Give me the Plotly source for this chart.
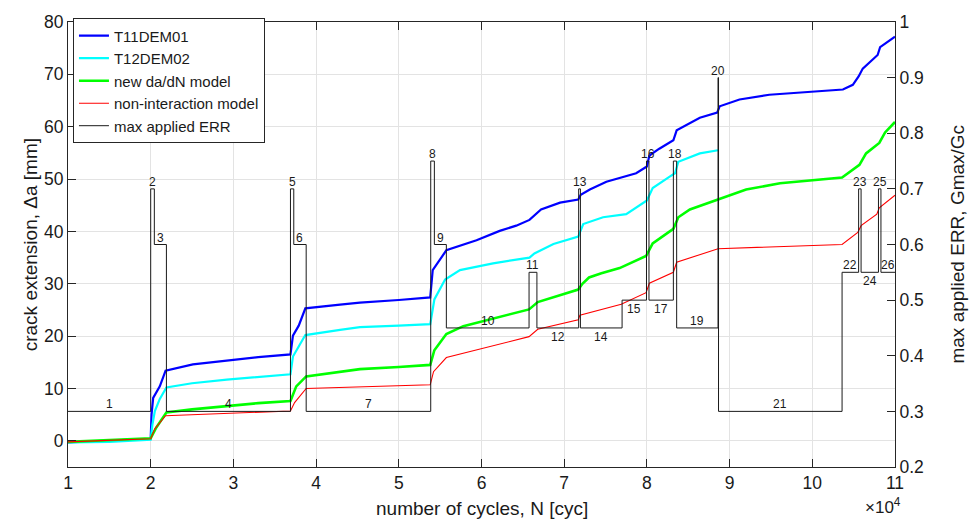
import plotly.graph_objects as go

# ---------------- data (N in cycles, crack extension in mm) ----------------
n_t11 = [1.0, 1.5, 2.0, 2.01, 2.03, 2.11, 2.18, 2.51, 2.92, 3.3, 3.69, 3.72, 3.79, 3.87, 4.29, 4.53,
         5.0, 5.38, 5.41, 5.47, 5.575, 5.94, 6.22, 6.42, 6.58, 6.72, 6.95, 7.17, 7.2, 7.31, 7.51,
         7.87, 8.0, 8.03, 8.15, 8.32, 8.36, 8.64, 8.85, 8.88, 9.12, 9.48, 9.93, 10.37, 10.49,
         10.56, 10.61, 10.79, 10.82, 11.0]
da_t11 = [-0.3, 0.0, 0.4, 5.0, 8.2, 10.4, 13.4, 14.6, 15.4, 16.0, 16.5, 20.1, 22.0, 25.3, 26.0, 26.4,
          26.9, 27.4, 32.6, 33.9, 36.4, 38.3, 40.1, 41.1, 42.2, 44.2, 45.5, 46.1, 47.0, 48.0, 49.5,
          51.1, 52.4, 54.5, 55.8, 57.4, 59.3, 61.7, 62.7, 63.9, 65.2, 66.1, 66.6, 67.1, 68.0,
          69.6, 71.1, 73.7, 75.2, 77.2]

n_t12 = [1.0, 1.5, 2.0, 2.02, 2.05, 2.11, 2.19, 2.5, 2.92, 3.3, 3.69, 3.72, 3.87, 4.29, 4.53, 5.0,
         5.38, 5.39, 5.43, 5.56, 5.74, 6.14, 6.58, 6.64, 6.87, 7.17, 7.23, 7.47, 7.75, 8.0, 8.07,
         8.28, 8.34, 8.38, 8.64, 8.86]
da_t12 = [-0.3, -0.2, 0.2, 3.0, 5.7, 8.0, 10.2, 11.0, 11.7, 12.2, 12.7, 16.1, 20.2, 21.2, 21.7, 22.0,
          22.3, 23.2, 27.0, 30.8, 32.6, 33.9, 35.0, 35.8, 37.6, 39.0, 41.4, 42.7, 43.3, 45.9, 48.3,
          50.5, 51.1, 53.3, 54.9, 55.5]

n_model = [1.0, 1.5, 2.0, 2.07, 2.19, 2.5, 2.92, 3.3, 3.69, 3.76, 3.88, 4.29, 4.53, 5.0, 5.38, 5.43,
           5.575, 5.78, 6.10, 6.575, 6.68, 6.91, 7.17, 7.22, 7.30, 7.45, 7.67, 7.99, 8.07, 8.32,
           8.38, 8.52, 8.86, 9.2, 9.61, 10.36, 10.57, 10.65, 10.81, 10.88, 11.0]
da_model = [-0.2, 0.1, 0.5, 2.6, 5.4, 6.0, 6.7, 7.2, 7.6, 10.4, 12.3, 13.2, 13.7, 14.1, 14.5, 17.3,
            20.4, 21.9, 23.2, 25.1, 26.5, 27.6, 28.9, 30.0, 31.2, 32.0, 33.0, 35.3, 37.7, 40.5,
            42.7, 44.2, 46.1, 48.0, 49.2, 50.3, 52.7, 54.9, 56.9, 58.9, 60.9]

n_nonint = [1.0, 2.0, 2.05, 2.18, 3.69, 3.74, 3.88, 5.38, 5.42, 5.575, 6.575, 6.68, 7.17, 7.19, 7.69,
            7.99, 8.03, 8.32, 8.36, 8.86, 10.36, 10.55, 10.59, 10.78, 10.81, 11.0]
da_nonint = [-0.2, 0.4, 2.3, 4.8, 5.7, 7.3, 10.0, 10.7, 13.2, 15.9, 19.9, 21.3, 23.1, 24.0, 26.1,
             28.3, 30.1, 32.2, 34.1, 36.7, 37.5, 39.8, 41.1, 43.3, 44.5, 46.9]

# loading blocks: boundaries (x1e4 cycles) and max applied ERR (Gmax/Gc)
step_bounds = [1.0, 2.0, 2.044, 2.19, 3.69, 3.73, 3.88, 5.386, 5.43, 5.575, 6.575, 6.67, 7.175,
               7.196, 7.70, 7.995, 8.025, 8.32, 8.36, 8.86, 8.866, 10.36, 10.56, 10.59, 10.80,
               10.83, 11.0]
step_levels = [0.3, 0.7, 0.6, 0.3, 0.7, 0.6, 0.3, 0.75, 0.6, 0.45, 0.55, 0.45, 0.7, 0.45, 0.5,
               0.75, 0.5, 0.75, 0.45, 0.9, 0.3, 0.55, 0.7, 0.55, 0.7, 0.55]
step_names = [str(i) for i in range(1, 27)]

x_ticks = [1, 2, 3, 4, 5, 6, 7, 8, 9, 10, 11]
y_ticks = [0, 10, 20, 30, 40, 50, 60, 70, 80]
y2_ticks = [0.2, 0.3, 0.4, 0.5, 0.6, 0.7, 0.8, 0.9, 1.0]
y2_ticktext = ["0.2", "0.3", "0.4", "0.5", "0.6", "0.7", "0.8", "0.9", "1"]

SCALE = 1e4

def sc(v):
    return [a * SCALE for a in v]

# label placement (style): labels drawn below their block line
below = {"12", "14", "15", "17", "24"}

FONT = "Liberation Sans, Arial, sans-serif"
AX = "#262626"
GRID = "#e3e3e3"

fig = go.Figure()
fig.add_trace(go.Scatter(x=sc(n_t11), y=da_t11, mode="lines", name="T11DEM01",
                         line=dict(color="#0000ff", width=2.2)))
fig.add_trace(go.Scatter(x=sc(n_t12), y=da_t12, mode="lines", name="T12DEM02",
                         line=dict(color="#00ffff", width=2.2)))
fig.add_trace(go.Scatter(x=sc(n_model), y=da_model, mode="lines", name="new da/dN model",
                         line=dict(color="#00ff00", width=2.6)))
fig.add_trace(go.Scatter(x=sc(n_nonint), y=da_nonint, mode="lines", name="non-interaction model",
                         line=dict(color="#ff0000", width=1.1)))
fig.add_trace(go.Scatter(x=sc(step_bounds), y=step_levels + [step_levels[-1]], mode="lines",
                         name="max applied ERR", yaxis="y2", line_shape="hv",
                         line=dict(color="#1a1a1a", width=1)))

annotations = []
for i, name in enumerate(step_names):
    xm = 0.5 * (step_bounds[i] + step_bounds[i + 1]) * SCALE
    annotations.append(dict(x=xm, y=step_levels[i], xref="x", yref="y2", text=name,
                            showarrow=False, xanchor="center", yanchor="middle",
                            yshift=-9 if name in below else 7,
                            font=dict(family=FONT, size=12, color="#1a1a1a")))

annotations += [
    dict(x=-0.045, y=0.5, xref="paper", yref="paper", text="crack extension, \u0394a [mm]",
         textangle=-90, showarrow=False, xanchor="center", yanchor="middle",
         font=dict(family=FONT, size=19, color="#1a1a1a")),
    dict(x=1.075, y=0.5, xref="paper", yref="paper", text="max applied ERR, Gmax/Gc",
         textangle=-90, showarrow=False, xanchor="center", yanchor="middle",
         font=dict(family=FONT, size=19, color="#1a1a1a")),
    dict(x=0.5, y=-0.093, xref="paper", yref="paper", text="number of cycles, N [cyc]",
         showarrow=False, xanchor="center", yanchor="middle",
         font=dict(family=FONT, size=19, color="#1a1a1a")),
    dict(x=0.985, y=-0.088, xref="paper", yref="paper", text="\u00d710<sup>4</sup>",
         showarrow=False, xanchor="center", yanchor="middle",
         font=dict(family=FONT, size=17, color="#1a1a1a")),
]

axis_common = dict(ticks="inside", ticklen=8, tickcolor=AX, tickwidth=1,
                   showline=True, linecolor=AX, linewidth=1, zeroline=False,
                   tickfont=dict(family=FONT, size=17.5, color="#1a1a1a"))

fig.update_layout(
    width=971, height=523, autosize=False,
    margin=dict(l=68, r=76, t=14, b=56),
    paper_bgcolor="white", plot_bgcolor="white",
    font=dict(family=FONT, color="#1a1a1a"),
    showlegend=True,
    legend=dict(x=0.006, y=1.008, xanchor="left", yanchor="top",
                bgcolor="white", bordercolor=AX, borderwidth=1,
                font=dict(family=FONT, size=15, color="#1a1a1a"),
                tracegroupgap=0, itemwidth=30),
    xaxis=dict(range=[1 * SCALE, 11 * SCALE], tickvals=sc(x_ticks),
               ticktext=[str(t) for t in x_ticks], showgrid=True, gridcolor=GRID,
               gridwidth=1, mirror="ticks", **axis_common),
    yaxis=dict(range=[-5, 80], tickvals=y_ticks, ticktext=[str(t) for t in y_ticks],
               showgrid=True, gridcolor=GRID, gridwidth=1, mirror=False, **axis_common),
    yaxis2=dict(range=[0.2, 1.0], tickvals=y2_ticks, ticktext=y2_ticktext,
                overlaying="y", side="right", showgrid=False, **axis_common),
    annotations=annotations,
)

fig.write_html("out.html", config={"displayModeBar": False},
               post_script="document.body.style.margin='0';")
